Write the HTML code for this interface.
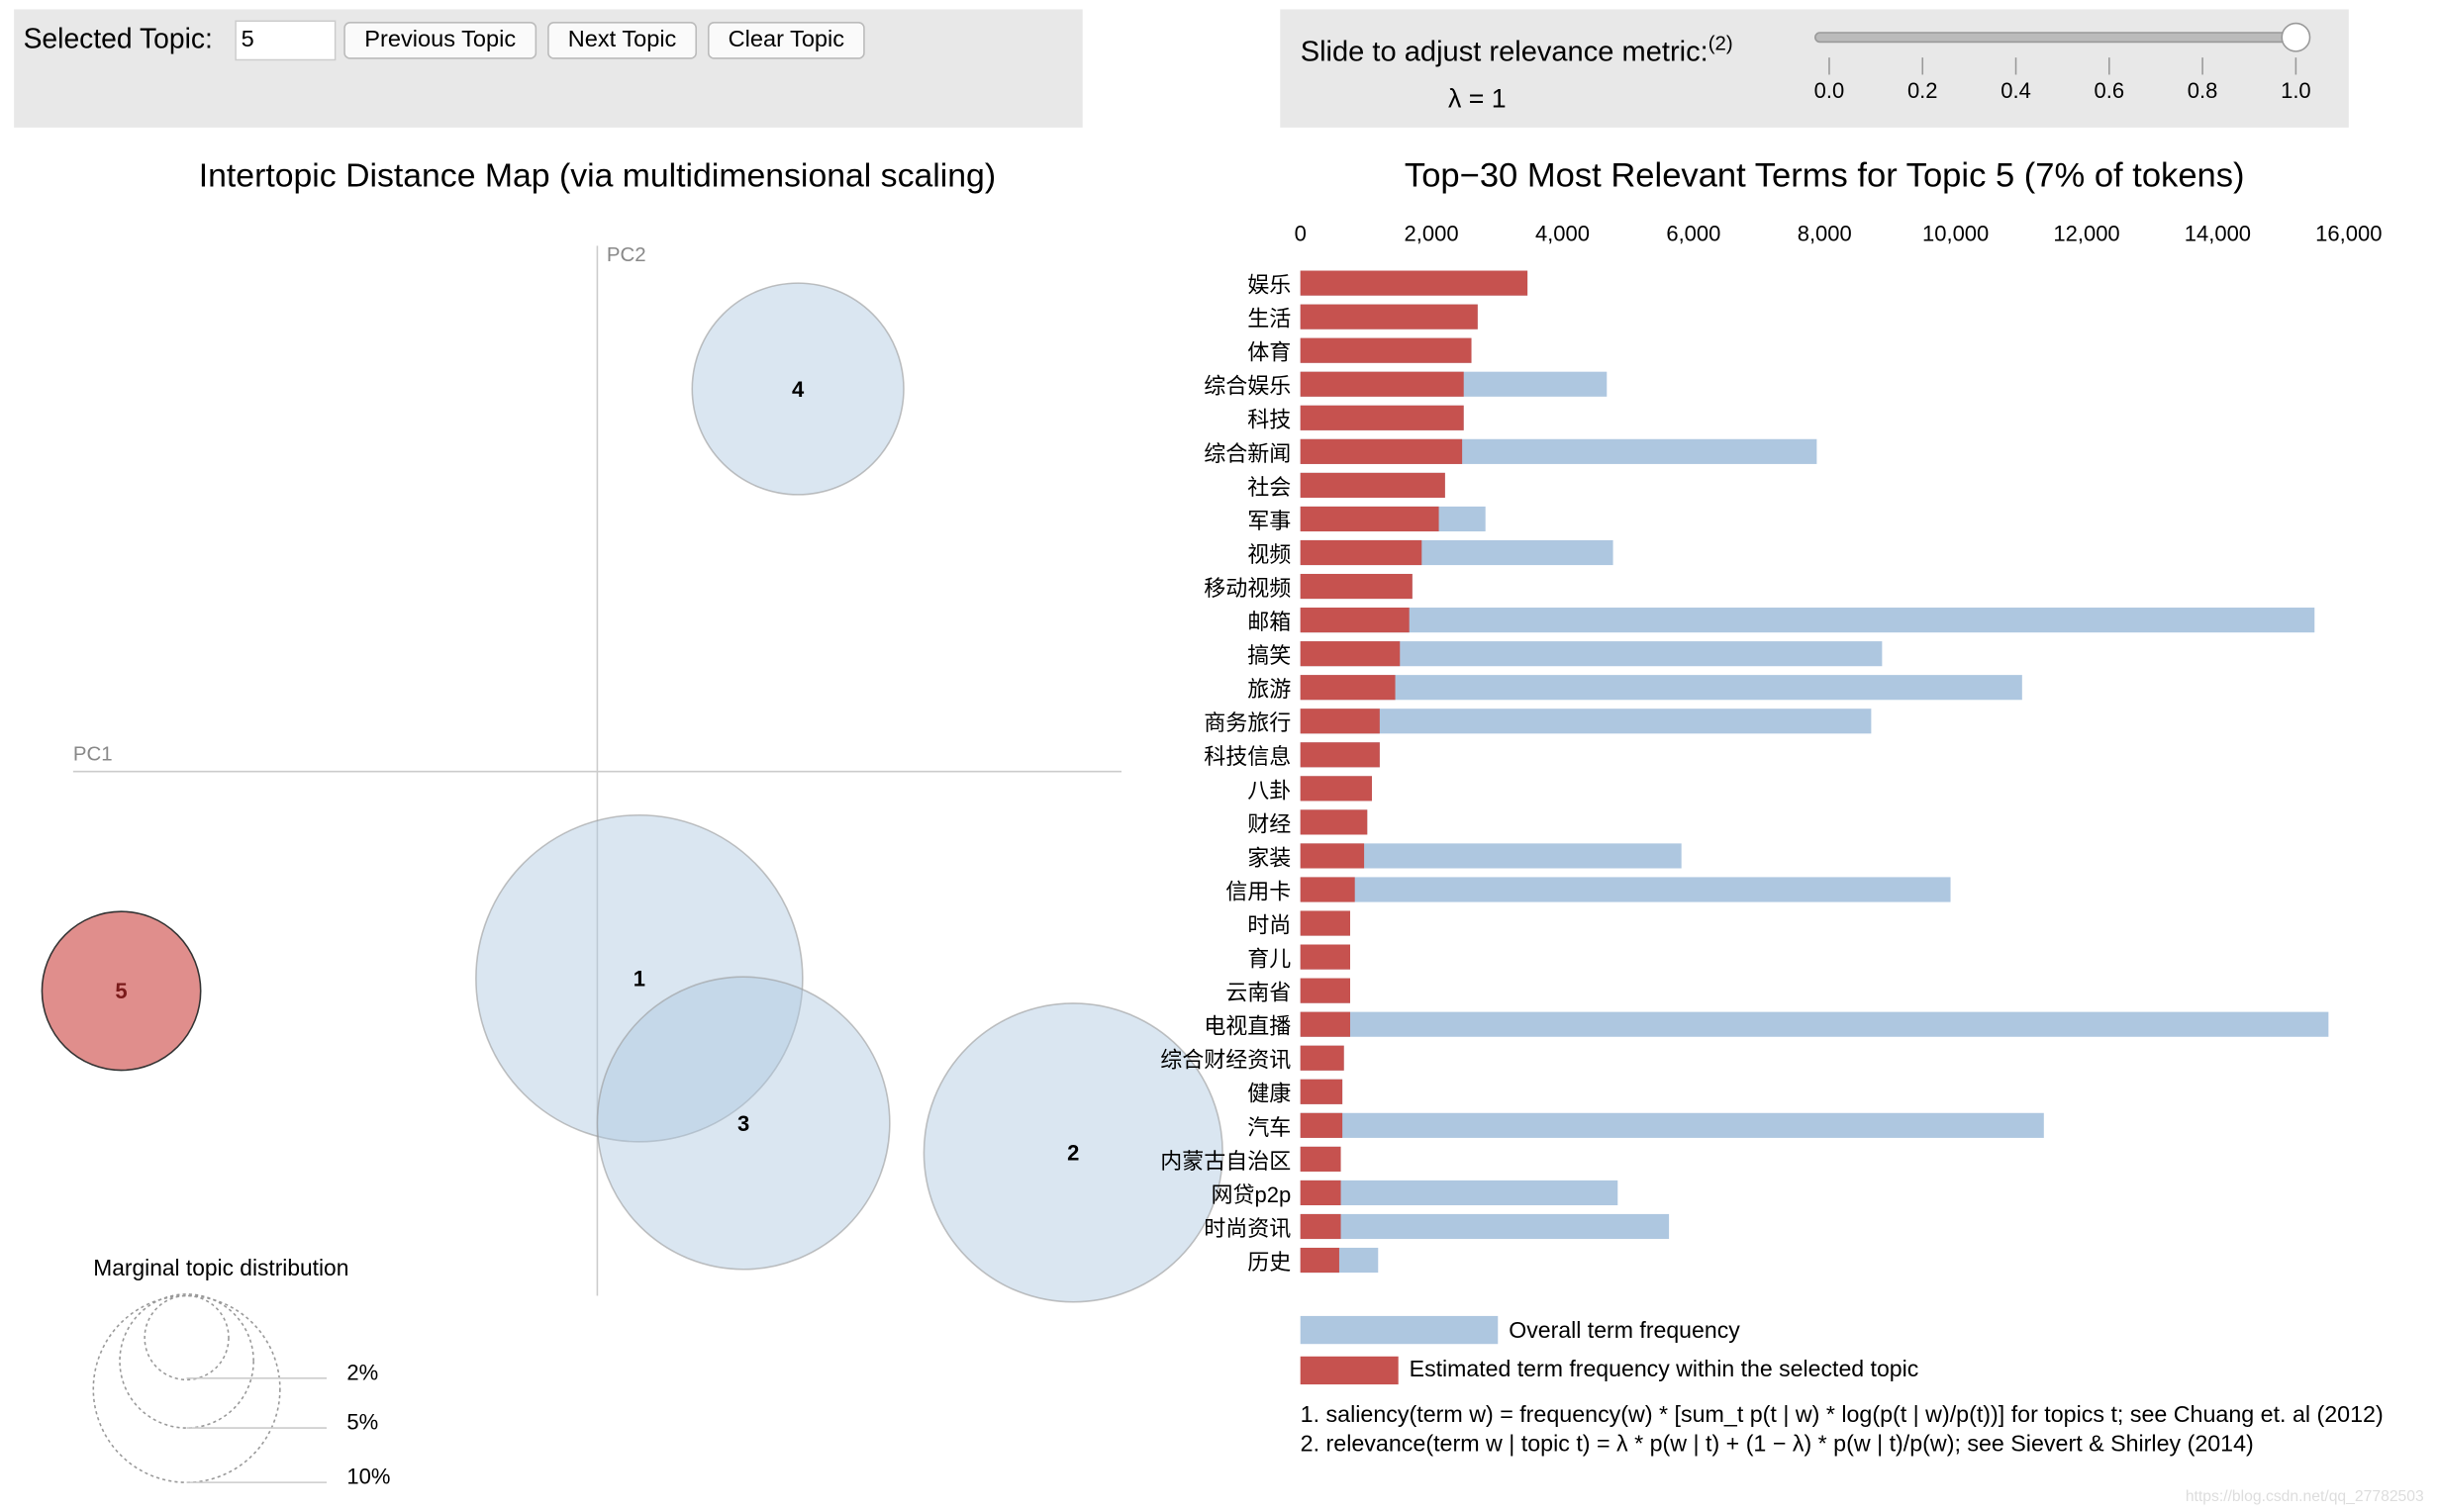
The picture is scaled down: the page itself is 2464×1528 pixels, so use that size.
<!DOCTYPE html>
<html><head><meta charset="utf-8"><style>
html,body{margin:0;padding:0;background:#fff;width:2464px;height:1528px;overflow:hidden}
#wrap{position:absolute;left:0;top:0;width:1568px;height:972px;transform:scale(1.5714,1.572);transform-origin:0 0;font-family:"Liberation Sans","Noto Sans CJK SC",sans-serif}
.box{position:absolute;background:#e8e8e8}
.btn{position:absolute;top:14px;height:22px;border:1px solid #bbb;border-radius:4px;background:#fafafa;font-size:15px;line-height:22px;text-align:center}
</style></head><body>
<div id="wrap">
<div class="box" style="left:9px;top:6px;width:687px;height:76px">
 <span style="position:absolute;left:6px;top:9px;font-size:18px">Selected Topic:</span>
 <div style="position:absolute;left:142px;top:7px;width:60px;height:24px;background:#fff;border:1px solid #ccc;font-size:15px;line-height:24px;padding-left:3px">5</div>
</div>
<div class="btn" style="left:221px;width:122px">Previous Topic</div>
<div class="btn" style="left:352px;width:94px">Next Topic</div>
<div class="btn" style="left:455px;width:99px">Clear Topic</div>
<div class="box" style="left:823px;top:6px;width:687px;height:76px">
 <span style="position:absolute;left:13px;top:14px;font-size:18.5px">Slide to adjust relevance metric:<sup style="font-size:13px">(2)</sup></span>
 <span style="position:absolute;left:108px;top:48px;font-size:17px">λ = 1</span>
</div>
<svg width="1568" height="972" style="position:absolute;left:0;top:0" font-family="Liberation Sans, Noto Sans CJK SC, sans-serif">
 <rect x="1167" y="21" width="309" height="6" rx="3" fill="#bbb" stroke="#999"/>
 <circle cx="1476" cy="24" r="9" fill="#fff" stroke="#999"/>
 <g id="sticks"></g>
 <text x="384" y="120" font-size="21.5" text-anchor="middle">Intertopic Distance Map (via multidimensional scaling)</text>
 <text x="1173" y="120" font-size="22" text-anchor="middle">Top−30 Most Relevant Terms for Topic 5 (7% of tokens)</text>
 <line x1="47" y1="496" x2="721" y2="496" stroke="#ccc"/>
 <line x1="384" y1="158" x2="384" y2="833" stroke="#ccc"/>
 <text x="47" y="489" font-size="13" fill="#888">PC1</text>
 <text x="390" y="168" font-size="13" fill="#888">PC2</text>
 <g id="bubbles"></g>
 <text x="60" y="820" font-size="14.5">Marginal topic distribution</text>
 <g fill="none" stroke="#999" stroke-dasharray="2,2">
  <circle cx="120" cy="893" r="60"/><circle cx="120" cy="875" r="43"/><circle cx="120" cy="860" r="27"/>
 </g>
 <g stroke="#ccc"><line x1="120" y1="886" x2="210" y2="886"/><line x1="120" y1="918" x2="210" y2="918"/><line x1="120" y1="953" x2="210" y2="953"/></g>
 <g font-size="14"><text x="223" y="887">2%</text><text x="223" y="919">5%</text><text x="223" y="954">10%</text></g>
 <g id="xaxis" font-size="14" text-anchor="middle"></g>
 <g id="bars"></g>
 <rect x="836" y="846" width="127" height="18" fill="#aec7e0"/>
 <text x="970" y="860" font-size="14.7">Overall term frequency</text>
 <rect x="836" y="872" width="63" height="18" fill="#c6524f"/>
 <text x="906" y="885" font-size="14.7">Estimated term frequency within the selected topic</text>
 <text x="836" y="914" font-size="14.8">1. saliency(term w) = frequency(w) * [sum_t p(t | w) * log(p(t | w)/p(t))] for topics t; see Chuang et. al (2012)</text>
 <text x="836" y="933" font-size="14.8">2. relevance(term w | topic t) = λ * p(w | t) + (1 − λ) * p(w | t)/p(w); see Sievert &amp; Shirley (2014)</text>
 <text x="1405" y="965" font-size="10" fill="#ddd">https://blog.csdn.net/qq_27782503</text>
</svg>
</div>
<script>
const terms=["娱乐","生活","体育","综合娱乐","科技","综合新闻","社会","军事","视频","移动视频","邮箱","搞笑","旅游","商务旅行","科技信息","八卦","财经","家装","信用卡","时尚","育儿","云南省","电视直播","综合财经资讯","健康","汽车","内蒙古自治区","网贷p2p","时尚资讯","历史"];
const topicFreq=[3466,2706,2611,2493,2493,2469,2208,2113,1852,1709,1662,1519,1448,1211,1211,1092,1021,973,831,760,760,760,760,665,641,641,617,617,617,593];
const overallFreq=[3466,2706,2611,4677,2493,7881,2208,2825,4772,1709,15478,8878,11015,8712,1211,1092,1021,5816,9923,760,760,760,15691,665,641,11347,617,4843,5626,1187];
const xTicks=[0,2000,4000,6000,8000,10000,12000,14000,16000];
const sliderTicks=[0,0.2,0.4,0.6,0.8,1.0];
const topicIds=["1","2","3","4","5"];
const topicX=[26,305,93,128,-307];
const topicY=[-133,-245,-226,246,-141];
const topicR=[105,96,94,68,51];
const NS="http://www.w3.org/2000/svg";
function mk(t,a,p){const e=document.createElementNS(NS,t);for(const k in a)e.setAttribute(k,a[k]);p.appendChild(e);return e;}
const xs=v=>836+v*674/16000, ys=i=>182+i*21.66;
const sx=v=>1176+v*300;
const st=document.getElementById('sticks');
sliderTicks.forEach(v=>{mk('line',{x1:sx(v),x2:sx(v),y1:37,y2:48,stroke:'#999'},st);const t=mk('text',{x:sx(v),y:63,'font-size':14,'text-anchor':'middle'},st);t.textContent=v.toFixed(1);

});
const bx=document.getElementById('xaxis');
xTicks.forEach(v=>{const t=mk('text',{x:xs(v),y:155},bx);t.textContent=v.toLocaleString('en-US');

});
const bb=document.getElementById('bubbles');
const px=v=>385+v, py=v=>496-v;
topicIds.forEach((id,i)=>{const sel=id==="5";
const c=mk('circle',{cx:px(topicX[i]),cy:py(topicY[i]),r:topicR[i],fill:sel?'#d0524f':'#aec7e0','fill-opacity':sel?0.65:0.45,stroke:sel?'#333':'#999','stroke-opacity':sel?1:0.6},bb);

});
topicIds.forEach((id,i)=>{const t=mk('text',{x:px(topicX[i]),y:py(topicY[i])+5,'font-size':14,'font-weight':'bold','text-anchor':'middle',fill:id==="5"?'#7a1a1a':'#000'},bb);t.textContent=id;

});
const g=document.getElementById('bars');
terms.forEach((w,i)=>{const y=ys(i);
const b=mk('rect',{x:836,y:y-8,width:xs(overallFreq[i])-836,height:16,fill:'#aec7e0'},g);


const r=mk('rect',{x:836,y:y-8,width:xs(topicFreq[i])-836,height:16,fill:'#c6524f'},g);


const t=mk('text',{x:830,y:y+6,'font-size':14,'text-anchor':'end'},g);t.textContent=w;

});
</script>
</body></html>
